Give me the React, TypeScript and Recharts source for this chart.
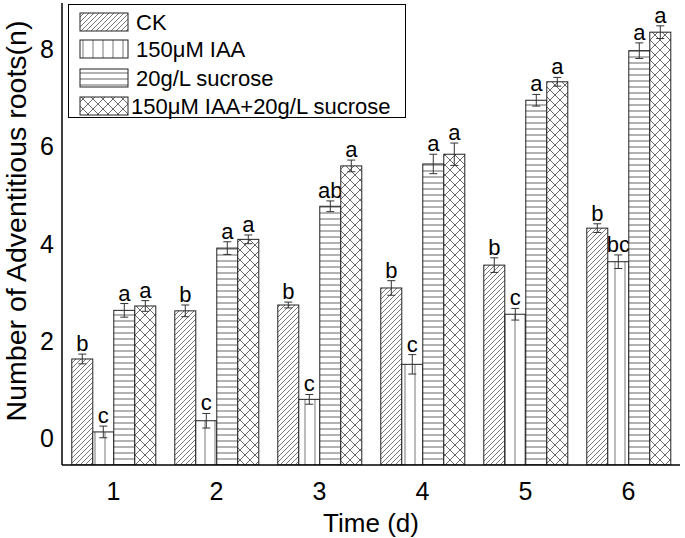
import React from 'react';
import { BarChart, Bar, XAxis, YAxis } from 'recharts';

const days = ['1', '2', '3', '4', '5', '6'];
const seriesNames = ['CK', '150\u03bcM IAA', '20g/L sucrose', '150\u03bcM IAA+20g/L sucrose'];

const ckValues = [1.63, 2.62, 2.74, 3.09, 3.56, 4.32];
const ckErrors = [0.1, 0.12, 0.06, 0.15, 0.15, 0.09];
const ckLetters = ['b', 'b', 'b', 'b', 'b', 'b'];

const iaaValues = [0.13, 0.36, 0.8, 1.52, 2.55, 3.63];
const iaaErrors = [0.12, 0.15, 0.1, 0.2, 0.12, 0.14];
const iaaLetters = ['c', 'c', 'c', 'c', 'c', 'bc'];

const sucroseValues = [2.63, 3.91, 4.77, 5.64, 6.95, 7.97];
const sucroseErrors = [0.14, 0.13, 0.11, 0.2, 0.12, 0.16];
const sucroseLetters = ['a', 'a', 'ab', 'a', 'a', 'a'];

const comboValues = [2.72, 4.09, 5.6, 5.84, 7.33, 8.35];
const comboErrors = [0.11, 0.09, 0.12, 0.23, 0.09, 0.13];
const comboLetters = ['a', 'a', 'a', 'a', 'a', 'a'];

const yTicks = [0, 2, 4, 6, 8];
const Y_MIN = -0.55;
const Y_MAX = 8.95;

const data = days.map((d, i) => ({
  day: d,
  ck: [Y_MIN, ckValues[i]],
  ckErr: ckErrors[i],
  ckLetter: ckLetters[i],
  iaa: [Y_MIN, iaaValues[i]],
  iaaErr: iaaErrors[i],
  iaaLetter: iaaLetters[i],
  suc: [Y_MIN, sucroseValues[i]],
  sucErr: sucroseErrors[i],
  sucLetter: sucroseLetters[i],
  combo: [Y_MIN, comboValues[i]],
  comboErr: comboErrors[i],
  comboLetter: comboLetters[i],
}));

const FONT = '"Liberation Sans", Arial, Helvetica, sans-serif';

const PatternDefs = ({ prefix }: { prefix: string }) => (
  <defs>
    <pattern id={`${prefix}ck`} patternUnits="userSpaceOnUse" width={5} height={5}>
      <rect width={5} height={5} fill="#fff" />
      <path d="M0,5 L5,0 M-1,1 L1,-1 M4,6 L6,4" stroke="#555" strokeWidth={0.8} />
    </pattern>
    <pattern id={`${prefix}iaa`} patternUnits="userSpaceOnUse" width={10} height={10}>
      <rect width={10} height={10} fill="#fff" />
      <path d="M5,0 L5,10" stroke="#777" strokeWidth={1} />
    </pattern>
    <pattern id={`${prefix}suc`} patternUnits="userSpaceOnUse" width={6} height={6}>
      <rect width={6} height={6} fill="#fff" />
      <path d="M0,3 L6,3" stroke="#666" strokeWidth={1} />
    </pattern>
    <pattern id={`${prefix}combo`} patternUnits="userSpaceOnUse" width={10} height={10}>
      <rect width={10} height={10} fill="#fff" />
      <path d="M0,0 L10,10 M10,0 L0,10" stroke="#444" strokeWidth={0.8} />
    </pattern>
  </defs>
);

function makeShape(valueKey: string, errKey: string, letterKey: string, patternId: string) {
  return (props: any) => {
    const { x, y, width, height, payload } = props;
    const range = payload[valueKey];
    const k = height / (range[1] - range[0]);
    const e = payload[errKey] * k;
    const cx = x + width / 2;
    return (
      <g>
        <rect x={x} y={y} width={width} height={height} fill={`url(#${patternId})`} stroke="#222" strokeWidth={1} />
        <line x1={cx} x2={cx} y1={y - e} y2={y + e} stroke="#333" strokeWidth={1} />
        <line x1={cx - 4} x2={cx + 4} y1={y - e} y2={y - e} stroke="#333" strokeWidth={1} />
        <line x1={cx - 4} x2={cx + 4} y1={y + e} y2={y + e} stroke="#333" strokeWidth={1} />
        <text x={cx} y={y - e - 3} textAnchor="middle" fontSize={22} fill="#000" fontFamily={FONT}>
          {payload[letterKey]}
        </text>
      </g>
    );
  };
}

const legendPatterns = ['lgck', 'lgiaa', 'lgsuc', 'lgcombo'];
const legendRowY = [18, 45, 74, 102];
const legendTextX = [68, 68, 68, 63];

const LegendBox = () => (
  <svg
    width={338}
    height={114}
    style={{ position: 'absolute', left: 68, top: 4, overflow: 'visible' }}
  >
    <PatternDefs prefix="lg" />
    <rect x={0.5} y={0.5} width={337} height={113} fill="#fff" stroke="#000" strokeWidth={1} />
    {seriesNames.map((name, i) => (
      <g key={name}>
        <rect x={12} y={legendRowY[i] - 9} width={48} height={18} fill={`url(#${legendPatterns[i]})`} stroke="#222" strokeWidth={1} />
        <text x={legendTextX[i]} y={legendRowY[i]} dominantBaseline="central" fontSize={22} fontFamily={FONT} fill="#000">
          {name}
        </text>
      </g>
    ))}
  </svg>
);

export default function App() {
  return (
    <div style={{ position: 'absolute', left: 0, top: 0, width: 685, height: 538, fontFamily: FONT, background: '#fff' }}>
      <BarChart
        width={685}
        height={538}
        data={data}
        margin={{ top: 3, right: 5, bottom: 0, left: 0 }}
        barCategoryGap="9.5%"
        barGap={0}
      >
        <PatternDefs prefix="ch" />
        <XAxis
          dataKey="day"
          height={73}
          tickLine={false}
          tickMargin={11}
          axisLine={{ stroke: '#000', strokeWidth: 1.5 }}
          tick={{ fontSize: 25, fill: '#000', fontFamily: FONT }}
          label={{ value: 'Time (d)', position: 'insideBottom', offset: 6, fontSize: 26, fill: '#000', fontFamily: FONT }}
        />
        <XAxis
          xAxisId="top"
          orientation="top"
          dataKey="day"
          height={0}
          tick={false}
          tickLine={false}
          axisLine={{ stroke: '#000', strokeWidth: 1.5 }}
        />
        <YAxis
          type="number"
          domain={[Y_MIN, Y_MAX]}
          ticks={yTicks}
          allowDataOverflow
          width={62}
          tickLine={false}
          axisLine={{ stroke: '#000', strokeWidth: 1.5 }}
          tick={{ fontSize: 25, fill: '#000', fontFamily: FONT }}
          label={{
            content: () => (
              <text
                x={16}
                y={221}
                transform="rotate(-90 16 221)"
                textAnchor="middle"
                dominantBaseline="central"
                fontSize={28.5}
                fill="#000"
                fontFamily={FONT}
              >
                Number of Adventitious roots(n)
              </text>
            ),
          }}
        />
        <YAxis
          yAxisId="right"
          orientation="right"
          width={0}
          tick={false}
          tickLine={false}
          axisLine={{ stroke: '#000', strokeWidth: 1.5 }}
        />
        <Bar dataKey="ck" name={seriesNames[0]} isAnimationActive={false} shape={makeShape('ck', 'ckErr', 'ckLetter', 'chck')} />
        <Bar dataKey="iaa" name={seriesNames[1]} isAnimationActive={false} shape={makeShape('iaa', 'iaaErr', 'iaaLetter', 'chiaa')} />
        <Bar dataKey="suc" name={seriesNames[2]} isAnimationActive={false} shape={makeShape('suc', 'sucErr', 'sucLetter', 'chsuc')} />
        <Bar dataKey="combo" name={seriesNames[3]} isAnimationActive={false} shape={makeShape('combo', 'comboErr', 'comboLetter', 'chcombo')} />
      </BarChart>
      <LegendBox />
    </div>
  );
}
